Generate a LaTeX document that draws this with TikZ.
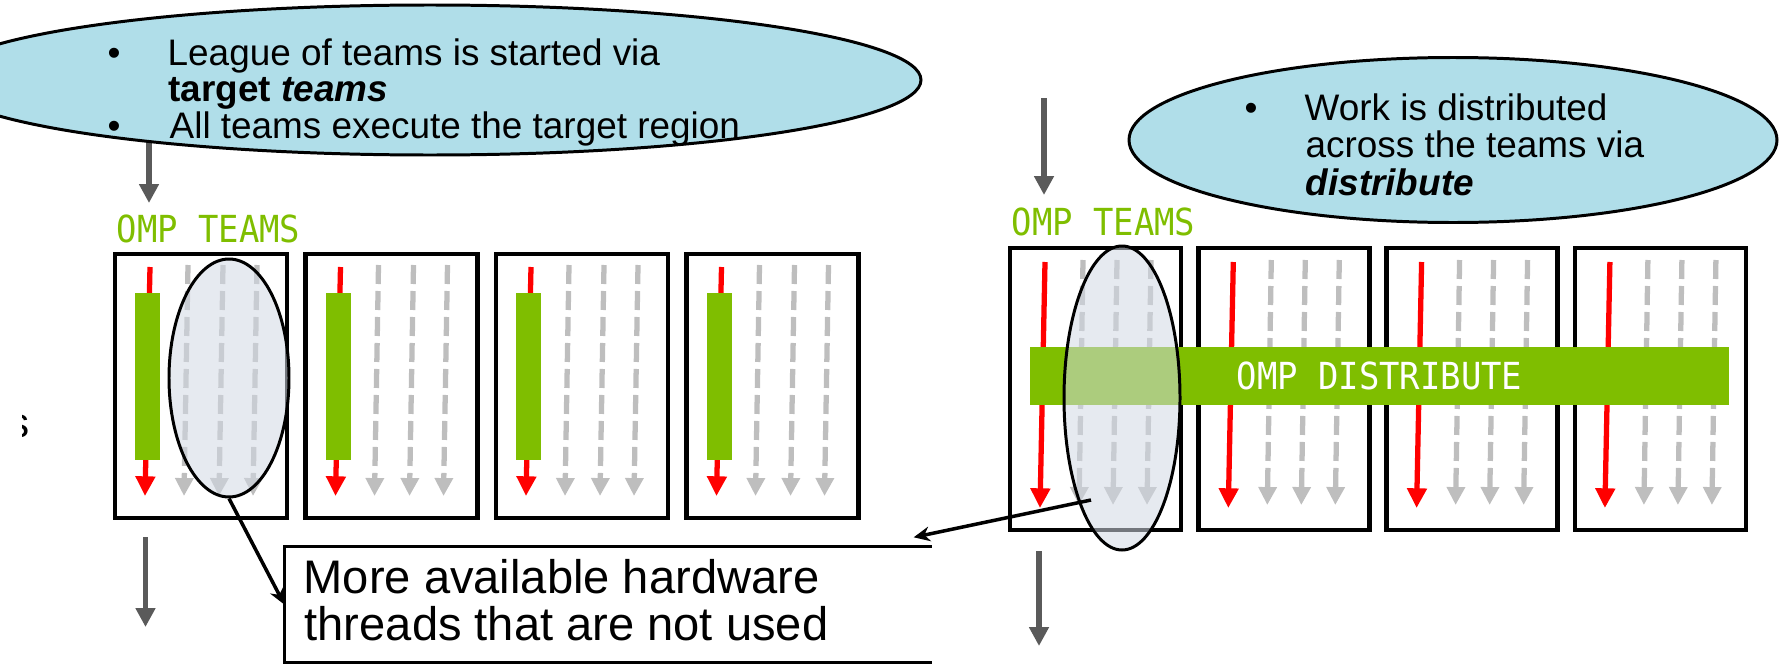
\documentclass[tikz,border=0pt]{standalone}
\usepackage{fontspec}
\setmainfont{Liberation Sans}
\newfontfamily\ompfont[FakeStretch=0.91]{DejaVu Sans Mono}
\usetikzlibrary{arrows.meta, shapes.geometric, calc}

\definecolor{ompgreen}{RGB}{127,190,0}
\definecolor{bubblefill}{RGB}{176,222,233}
\definecolor{lensfill}{RGB}{210,217,228}
\definecolor{idlegray}{RGB}{190,190,190}
\definecolor{flowgray}{RGB}{90,90,90}

\tikzset{
	bubble/.style = {ellipse, draw, line width=0.85pt, fill=bubblefill, inner sep=0pt},
	lens/.style = {ellipse, draw, line width=0.85pt, fill=lensfill, fill opacity=0.55, inner sep=0pt},
	teambox/.style = {draw, line width=1.3pt, inner sep=0pt},
	master/.style = {red, line width=1.5pt, -{Triangle[length=5.6pt, width=5.4pt]}},
	idle/.style = {idlegray, line width=1.5pt, dash pattern=on 1.9mm off 0.7mm, -{Triangle[length=5.1pt, width=5pt]}},
	flow/.style = {flowgray, line width=1.6pt, -{Triangle[length=5.4pt, width=5.4pt]}},
	callout/.style = {line width=1pt, -{Stealth[length=4.6pt, width=4.2pt]}},
	bullettext/.style = {anchor=base west, inner sep=0pt, font=\fontsize{10.5}{12}\selectfont},
	notetext/.style = {anchor=base west, inner sep=0pt, font=\fontsize{13.4}{16}\selectfont},
	omplabel/.style = {anchor=base west, inner sep=0pt, text=ompgreen, font=\ompfont\fontsize{10.6}{12}\selectfont}
}

\begin{document}
\begin{tikzpicture}[x=0.1mm, y=-0.1mm]
	\useasboundingbox (0, 0) rectangle (1788, 672);

	% flow into and out of the teams
	\coordinate (inL) at (149, 130);
	\coordinate (topL) at (149, 203);
	\coordinate (inR) at (1044, 98);
	\coordinate (topR) at (1044, 195);
	\draw[flow] (inL) -- (topL);
	\draw[flow] (inR) -- (topR);

	% bubbles
	\node[bubble, minimum width=98.2mm, minimum height=15mm] (league) at (430, 80) {};
	\node[bullettext] (lb1) at (107, 65) {\textbullet};
	\node[bullettext] (l1) at (167, 65) {League of teams is started via};
	\node[bullettext] (l2) at (168, 101) {\textbf{target \textit{teams}}};
	\node[bullettext] (lb2) at (107, 138) {\textbullet};
	\node[bullettext] (l3) at (169, 138) {All teams execute the target region};

	\node[bubble, minimum width=64.8mm, minimum height=16.5mm] (work) at (1453, 140) {};
	\node[bullettext] (wb1) at (1244, 120) {\textbullet};
	\node[bullettext] (w1) at (1304, 120) {Work is distributed};
	\node[bullettext] (w2) at (1305, 157) {across the teams via};
	\node[bullettext] (w3) at (1305, 195) {\textbf{\textit{distribute}}};

	\node[omplabel] (teamsL) at (116, 242) {OMP TEAMS};
	\node[omplabel] (teamsR) at (1011, 235) {OMP TEAMS};

	% left: teams only
	\foreach \i in {1,...,4} {
		\pgfmathsetmacro{\bx}{115 + 190.5*(\i - 1)}
		\draw[master] (\bx + 35, 267) -- (\bx + 30, 496);
		\foreach \d in {73, 108, 142}
			\draw[idle] (\bx + \d, 265) -- (\bx + \d - 4, 496);
		\fill[ompgreen] (\bx + 20, 293) rectangle (\bx + 45, 460);
		\node[teambox, minimum width=17.2mm, minimum height=26.4mm] (lt\i) at (\bx + 86, 386) {};
	}

	% right: teams with distribute
	\foreach \i in {1,...,4} {
		\pgfmathsetmacro{\bx}{1010 + 188.3*(\i - 1)}
		\draw[master] (\bx + 35, 262) -- (\bx + 30, 508);
		\foreach \d in {73, 107, 141}
			\draw[idle] (\bx + \d, 260) -- (\bx + \d - 4, 505);
		\node[teambox, minimum width=17.1mm, minimum height=28.2mm] (rt\i) at (\bx + 85.5, 389) {};
	}
	\node[fill=ompgreen, text=white, inner sep=0pt, minimum width=69.9mm, minimum height=5.8mm,
		font=\ompfont\fontsize{10.6}{12}\selectfont] (dist) at (1379.5, 376) {OMP DISTRIBUTE};

	% unused threads
	\node[lens, minimum width=12mm, minimum height=23.8mm] (lensL) at (229, 378) {};
	\node[lens, minimum width=11.6mm, minimum height=30.4mm] (lensR) at (1122, 398) {};

	\coordinate (outL) at (145.5, 537);
	\coordinate (endL) at (145.5, 627);
	\coordinate (outR) at (1039, 551);
	\coordinate (endR) at (1039, 646);
	\draw[flow] (outL) -- (endL);
	\draw[flow] (outR) -- (endR);

	% note
	\node[inner sep=0pt, minimum width=64.6mm, minimum height=11.5mm] (note) at (608, 604.5) {};
	\draw[line width=0.85pt] (note.north east) -- (note.north west) -- (note.south west) -- (note.south east);
	\node[notetext] (n1) at (303, 593) {More available hardware};
	\node[notetext] (n2) at (304, 640) {threads that are not used};

	\coordinate (lensRhit) at (1091, 500);
	\coordinate (notetip) at ($(note.north east) + (-18, -9)$);
	\draw[callout] (lensL.south) -- (note.west);
	\draw[callout] (lensRhit) -- (notetip);

	% cut-off letter at the left edge
	\begin{scope}
		\clip (22.5, 400) rectangle (40, 445);
		\node[anchor=base west, inner sep=0pt, font=\fontsize{12}{14}\selectfont] (cut) at (8, 437) {s};
	\end{scope}
\end{tikzpicture}
\end{document}
